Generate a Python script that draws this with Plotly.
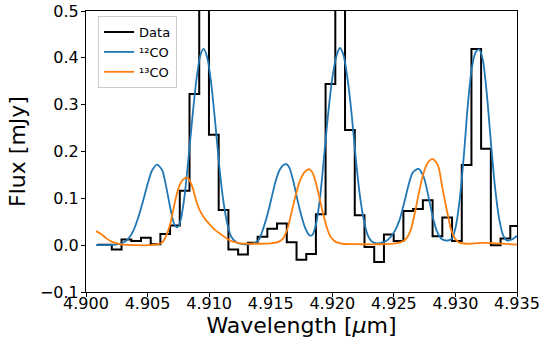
import plotly.graph_objects as go

# ---- Data (binned spectrum, bin centres in micron, flux in mJy) ----
data_wave = [4.90091, 4.90170, 4.90249, 4.90328, 4.90407, 4.90486, 4.90565, 4.90643,
             4.90722, 4.90801, 4.90880, 4.90959, 4.91038, 4.91117, 4.91196, 4.91275,
             4.91354, 4.91433, 4.91512, 4.91591, 4.91670, 4.91749, 4.91828, 4.91906,
             4.91985, 4.92064, 4.92143, 4.92222, 4.92301, 4.92380, 4.92459, 4.92538,
             4.92617, 4.92696, 4.92775, 4.92854, 4.92933, 4.93012, 4.93091, 4.93169,
             4.93248, 4.93327, 4.93406, 4.93485, 4.93564]
data_flux = [0.001, 0.001, -0.009, 0.012, 0.009, 0.016, 0.002, 0.024,
             0.042, 0.116, 0.323, 0.620, 0.236, 0.075, -0.009, -0.020,
             0.005, 0.018, 0.035, 0.046, 0.006, -0.031, -0.019, 0.066,
             0.344, 0.600, 0.246, 0.064, -0.004, -0.036, 0.023, 0.009,
             0.073, 0.077, 0.096, 0.019, 0.059, 0.009, 0.171, 0.419,
             0.206, 0.000, 0.014, 0.041, 0.041]

# ---- 12CO model ----
co12_wave = [4.90081, 4.90236, 4.90293, 4.90342, 4.90383, 4.90423, 4.90464, 4.90505,
             4.90537, 4.90578, 4.90619, 4.90651, 4.90684, 4.90716, 4.90741, 4.90765,
             4.90798, 4.90830, 4.90863, 4.90895, 4.90928, 4.90955, 4.90985, 4.91017,
             4.91050, 4.91082, 4.91115, 4.91148, 4.91180, 4.91221, 4.91270, 4.91335,
             4.91400, 4.91441, 4.91473, 4.91506, 4.91538, 4.91571, 4.91603, 4.91628,
             4.91652, 4.91685, 4.91717, 4.91750, 4.91783, 4.91815, 4.91839, 4.91872,
             4.91904, 4.91937, 4.91970, 4.92002, 4.92035, 4.92062, 4.92092, 4.92124,
             4.92157, 4.92189, 4.92222, 4.92255, 4.92287, 4.92320, 4.92360, 4.92409,
             4.92458, 4.92507, 4.92548, 4.92588, 4.92621, 4.92653, 4.92700, 4.92743,
             4.92784, 4.92816, 4.92849, 4.92889, 4.92938, 4.92971, 4.93003, 4.93036,
             4.93068, 4.93101, 4.93134, 4.93166, 4.93193, 4.93223, 4.93256, 4.93288,
             4.93321, 4.93353, 4.93386, 4.93419, 4.93459, 4.93500]
co12_flux = [0.000, 0.001, 0.004, 0.013, 0.030, 0.058, 0.095, 0.135,
             0.160, 0.172, 0.160, 0.125, 0.080, 0.045, 0.038, 0.050,
             0.100, 0.180, 0.270, 0.350, 0.405, 0.419, 0.400, 0.345,
             0.260, 0.170, 0.095, 0.045, 0.018, 0.006, 0.002, 0.002,
             0.010, 0.037, 0.065, 0.100, 0.135, 0.160, 0.171, 0.173,
             0.165, 0.135, 0.097, 0.062, 0.035, 0.021, 0.022, 0.050,
             0.110, 0.200, 0.290, 0.360, 0.405, 0.421, 0.405, 0.355,
             0.280, 0.190, 0.110, 0.055, 0.022, 0.008, 0.004, 0.006,
             0.013, 0.030, 0.055, 0.095, 0.130, 0.155, 0.163, 0.145,
             0.100, 0.060, 0.030, 0.013, 0.010, 0.014, 0.040, 0.100,
             0.190, 0.300, 0.380, 0.413, 0.418, 0.395, 0.320, 0.220,
             0.125, 0.060, 0.022, 0.010, 0.012, 0.020]

# ---- 13CO model ----
co13_wave = [4.90081, 4.90122, 4.90163, 4.90203, 4.90252, 4.90309, 4.90399, 4.90521,
             4.90586, 4.90619, 4.90651, 4.90684, 4.90716, 4.90749, 4.90781, 4.90814,
             4.90830, 4.90863, 4.90895, 4.90928, 4.90969, 4.91009, 4.91050, 4.91091,
             4.91139, 4.91188, 4.91253, 4.91375, 4.91498, 4.91563, 4.91603, 4.91636,
             4.91669, 4.91701, 4.91734, 4.91766, 4.91791, 4.91815, 4.91839, 4.91864,
             4.91888, 4.91921, 4.91953, 4.91986, 4.92027, 4.92084, 4.92230, 4.92393,
             4.92515, 4.92572, 4.92604, 4.92637, 4.92670, 4.92702, 4.92735, 4.92767,
             4.92792, 4.92816, 4.92841, 4.92865, 4.92889, 4.92914, 4.92938, 4.92963,
             4.92995, 4.93028, 4.93093, 4.93207, 4.93329, 4.93500]
co13_flux = [0.030, 0.024, 0.015, 0.008, 0.004, 0.001, 0.000, 0.000,
             0.002, 0.006, 0.020, 0.045, 0.085, 0.120, 0.138, 0.144,
             0.143, 0.125, 0.095, 0.072, 0.055, 0.043, 0.032, 0.024,
             0.015, 0.008, 0.004, 0.003, 0.004, 0.007, 0.015, 0.035,
             0.070, 0.105, 0.135, 0.153, 0.160, 0.162, 0.155, 0.136,
             0.110, 0.072, 0.040, 0.018, 0.007, 0.003, 0.002, 0.002,
             0.004, 0.008, 0.015, 0.032, 0.068, 0.110, 0.148, 0.172,
             0.181, 0.184, 0.178, 0.165, 0.130, 0.095, 0.065, 0.035,
             0.015, 0.006, 0.003, 0.005, 0.004, 0.001]

x_ticks = [4.900, 4.905, 4.910, 4.915, 4.920, 4.925, 4.930, 4.935]
y_ticks = [-0.1, 0.0, 0.1, 0.2, 0.3, 0.4, 0.5]

fig = go.Figure()
fig.add_trace(go.Scatter(x=data_wave, y=data_flux, mode="lines", name="Data",
                         line=dict(color="black", width=2, shape="hvh")))
fig.add_trace(go.Scatter(x=co12_wave, y=co12_flux, mode="lines", name="\u00b9\u00b2CO",
                         line=dict(color="#1f77b4", width=1.8, shape="spline", smoothing=0.7)))
fig.add_trace(go.Scatter(x=co13_wave, y=co13_flux, mode="lines", name="\u00b9\u00b3CO",
                         line=dict(color="#ff7f0e", width=1.8, shape="spline", smoothing=0.7)))

axis_common = dict(showline=True, linecolor="black", linewidth=1, mirror=True,
                   ticks="outside", ticklen=4, tickcolor="black", tickwidth=1,
                   showgrid=False, zeroline=False, automargin=False,
                   ticklabeloverflow="allow",
                   tickfont=dict(family="DejaVu Sans", size=16, color="black"))

fig.update_xaxes(range=[4.900, 4.935], tickvals=x_ticks,
                 ticktext=[f"{v:.3f}" for v in x_ticks],
                 ticklabelstandoff=-7,
                 title=dict(text="Wavelength [<i>μ</i>m]", standoff=5,
                            font=dict(family="DejaVu Sans", size=22, color="black")),
                 **axis_common)
fig.update_yaxes(range=[-0.1, 0.5], tickvals=y_ticks,
                 ticktext=[("\u2212" if v < 0 else "") + f"{abs(v):.1f}" for v in y_ticks],
                 ticklabelstandoff=-1,
                 title=dict(text="Flux [mJy]", standoff=8,
                            font=dict(family="DejaVu Sans", size=22, color="black")),
                 **axis_common)

fig.update_layout(
    width=559, height=349,
    margin=dict(l=86, r=42, t=11, b=57, autoexpand=False),
    paper_bgcolor="white", plot_bgcolor="white",
    font=dict(family="DejaVu Sans", color="black"),
    legend=dict(x=0.028, y=0.982, xanchor="left", yanchor="top",
                bgcolor="rgba(255,255,255,0.8)", bordercolor="#cccccc", borderwidth=1,
                font=dict(family="DejaVu Sans", size=13, color="black"),
                itemwidth=30),
    showlegend=True,
)

# remove the default page margin so the figure starts at the window's corner
fig.write_html("out.html",
               config={"displayModeBar": False},
               post_script="document.body.style.margin='0';document.body.style.overflow='hidden';")
